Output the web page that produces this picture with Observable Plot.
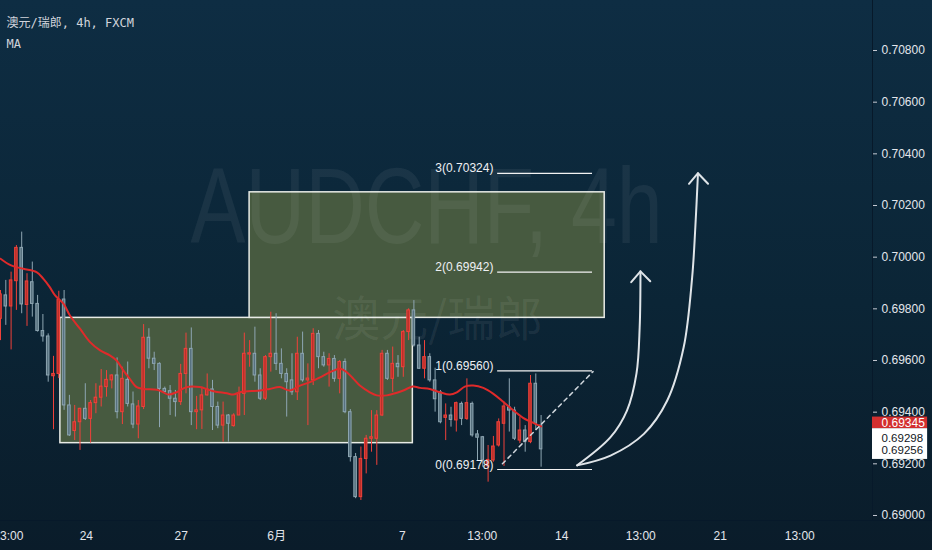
<!DOCTYPE html>
<html><head><meta charset="utf-8">
<script src="https://cdn.jsdelivr.net/npm/d3@7"></script>
<script src="https://cdn.jsdelivr.net/npm/@observablehq/plot@0.6"></script>
<style>
html,body{margin:0;padding:0;background:#0b2234;overflow:hidden;}
#chart svg{display:block}
</style></head><body><div id="chart"></div>
<script>
// ---- data (AUD/CHF 4h candles) ----
const opens  = [0.69761,0.69852,0.69809,0.69907,0.70036,0.69815,0.69903,0.69819,0.69714,0.69693,
  0.69539,0.69548,0.69836,0.69426,0.69327,0.69361,0.69413,0.69374,0.69435,0.69456,
  0.69497,0.69523,0.69542,0.69400,0.69525,0.69430,0.69352,0.69420,0.69688,0.69607,
  0.69587,0.69490,0.69481,0.69452,0.69439,0.69548,0.69645,0.69400,0.69407,0.69465,
  0.69488,0.69420,0.69348,0.69387,0.69346,0.69387,0.69471,0.69623,0.69626,0.69542,
  0.69452,0.69613,0.69626,0.69587,0.69548,0.69523,0.69477,0.69626,0.69523,0.69523,
  0.69703,0.69613,0.69581,0.69606,0.69529,0.69594,0.69400,0.69226,0.69071,0.69219,
  0.69297,0.69297,0.69387,0.69626,0.69529,0.69587,0.69574,0.69710,0.69794,0.69658,
  0.69568,0.69613,0.69523,0.69477,0.69378,0.69387,0.69368,0.69432,0.69374,0.69432,
  0.69314,0.69303,0.69190,0.69213,0.69271,0.69355,0.69419,0.69406,0.69290,0.69329,
  0.69284,0.69510,0.69348];
const highs  = [0.69871,0.69910,0.69942,0.70045,0.70097,0.69936,0.69981,0.69852,0.69778,0.69703,
  0.69616,0.69868,0.69871,0.69465,0.69426,0.69415,0.69510,0.69445,0.69510,0.69565,
  0.69561,0.69545,0.69610,0.69574,0.69594,0.69478,0.69445,0.69739,0.69723,0.69632,
  0.69591,0.69497,0.69503,0.69484,0.69585,0.69706,0.69726,0.69461,0.69497,0.69548,
  0.69523,0.69439,0.69439,0.69391,0.69394,0.69497,0.69706,0.69677,0.69729,0.69568,
  0.69619,0.69787,0.69781,0.69645,0.69568,0.69626,0.69690,0.69710,0.69587,0.69723,
  0.69716,0.69632,0.69626,0.69619,0.69600,0.69606,0.69410,0.69240,0.69265,0.69310,
  0.69406,0.69406,0.69639,0.69639,0.69652,0.69619,0.69716,0.69800,0.69832,0.69690,
  0.69677,0.69626,0.69570,0.69484,0.69432,0.69419,0.69439,0.69439,0.69529,0.69439,
  0.69329,0.69306,0.69271,0.69306,0.69374,0.69439,0.69529,0.69419,0.69381,0.69348,
  0.69542,0.69548,0.69387];
const lows   = [0.69677,0.69736,0.69641,0.69794,0.69781,0.69732,0.69768,0.69710,0.69671,0.69516,
  0.69332,0.69530,0.69407,0.69306,0.69290,0.69252,0.69368,0.69280,0.69394,0.69420,
  0.69458,0.69490,0.69374,0.69352,0.69420,0.69336,0.69297,0.69410,0.69568,0.69561,
  0.69340,0.69471,0.69387,0.69381,0.69426,0.69471,0.69348,0.69332,0.69333,0.69462,
  0.69329,0.69336,0.69284,0.69284,0.69342,0.69387,0.69387,0.69574,0.69516,0.69445,
  0.69445,0.69555,0.69561,0.69529,0.69381,0.69465,0.69445,0.69516,0.69348,0.69503,
  0.69568,0.69574,0.69497,0.69516,0.69471,0.69394,0.69207,0.69065,0.69058,0.69161,
  0.69245,0.69194,0.69383,0.69523,0.69477,0.69535,0.69535,0.69677,0.69652,0.69565,
  0.69529,0.69516,0.69400,0.69355,0.69290,0.69342,0.69323,0.69348,0.69368,0.69303,
  0.69213,0.69187,0.69129,0.69206,0.69265,0.69190,0.69323,0.69290,0.69278,0.69245,
  0.69278,0.69329,0.69187];
const closes = [0.69856,0.69809,0.69910,0.70036,0.69817,0.69906,0.69819,0.69714,0.69693,0.69542,
  0.69548,0.69835,0.69426,0.69310,0.69361,0.69413,0.69374,0.69435,0.69456,0.69499,
  0.69525,0.69542,0.69400,0.69529,0.69432,0.69352,0.69422,0.69688,0.69607,0.69587,
  0.69490,0.69478,0.69452,0.69439,0.69548,0.69645,0.69400,0.69407,0.69465,0.69488,
  0.69420,0.69348,0.69387,0.69355,0.69387,0.69471,0.69626,0.69628,0.69542,0.69452,
  0.69613,0.69626,0.69587,0.69548,0.69516,0.69477,0.69626,0.69523,0.69530,0.69703,
  0.69613,0.69581,0.69606,0.69529,0.69594,0.69400,0.69226,0.69071,0.69219,0.69297,
  0.69303,0.69387,0.69626,0.69529,0.69587,0.69574,0.69710,0.69794,0.69658,0.69568,
  0.69613,0.69523,0.69450,0.69361,0.69387,0.69370,0.69435,0.69374,0.69435,0.69310,
  0.69301,0.69213,0.69215,0.69267,0.69361,0.69422,0.69406,0.69297,0.69329,0.69284,
  0.69510,0.69355,0.69256];

// moving average (bar index, value)
const maBars = [0,2,4.3,6.8,8.1,9.3,10.3,11.9,13.1,15,16.9,18.8,20.7,21.9,23.2,24.4,25.7,27,29.5,30.7,
  31.7,33.2,35.1,37.6,40.2,42.7,43.9,45.2,49,50.8,52.7,54.6,56.5,58.4,60.3,62.2,64.1,65.3,66.6,67.8,
  69.7,71,72.9,74.8,76,77.8,79.2,81,82.9,84.8,86.1,87.6,89.2,91.1,93,94.9,96.8,98.6,99.9,101.2,102];
const maVals = [0.69994,0.69968,0.69955,0.69942,0.69916,0.69884,0.69852,0.69819,0.69774,0.69723,0.69671,0.69639,0.69619,0.69600,0.69561,0.69529,0.69497,0.69490,0.69487,0.69477,
  0.69468,0.69477,0.69497,0.69497,0.69481,0.69473,0.69468,0.69477,0.69484,0.69490,0.69497,0.69484,0.69503,0.69516,0.69535,0.69555,0.69568,0.69555,0.69529,0.69503,
  0.69477,0.69465,0.69465,0.69475,0.69484,0.69499,0.69494,0.69490,0.69477,0.69468,0.69477,0.69499,0.69503,0.69494,0.69471,0.69439,0.69406,0.69378,0.69364,0.69352,0.69345];

// x axis ticks (bar index positions) and labels
const xTickPos    = [1.5, 16.2, 34.1, 52.1, 75.8, 90.9, 105.9, 120.8, 135.8, 150.8];
const xTickLabels = ["13:00","24","27","6月","7","13:00","14","13:00","21","13:00"];
// y axis ticks
const yTicks = [0.690,0.692,0.694,0.696,0.698,0.700,0.702,0.704,0.706,0.708];

// drawings: rectangles
const boxX1 = [11.3, 47.0];
const boxX2 = [77.8, 114.0];
const boxTop = [0.69765, 0.70251];
const boxBottom = [0.69280, 0.69765];

// fibonacci extension levels
const fibRatios = ["0","1","2","3"];
const fibLevels = [0.69178, 0.69560, 0.69942, 0.70324];
const fibStart = 93.8, fibEnd = 111.7;
const fibDash = [[94.7, 0.69200], [111.8, 0.69557]];

// hand-drawn arrows (bar index, price)
const arrow1 = [[108.8,0.69194],[115.1,0.69303],[118.2,0.69406],[120.0,0.69550],[120.6,0.69729],[120.75,0.69945]];
const arrow1Head = [[119.0,0.69903],[120.75,0.69945],[122.6,0.69907]];
const arrow2 = [[108.8,0.69194],[115.1,0.69232],[121.4,0.69316],[125.8,0.69445],[128.9,0.69651],[130.5,0.69922],[131.1,0.70116],[131.6,0.70325]];
const arrow2Head = [[129.9,0.70284],[131.6,0.70325],[133.5,0.70284]];

// price labels on the scale
const maLast = 0.69345, priceA = 0.69298, lastClose = 0.69256;

// ---- build ----
const UP = "#f0413a", UPFILL = "#b9302a", DN = "#8ea6b2", DNFILL = "#57717f";
const candles = opens.map((o,i)=>({k:i, open:o, high:highs[i], low:lows[i], close:closes[i], up: closes[i] >= o}));
const ma = maBars.map((b,i)=>({k:b, v:maVals[i]}));
const boxes = boxX1.map((x,i)=>({x1:x, x2:boxX2[i], y1:boxBottom[i], y2:boxTop[i]}));
const fibs = fibLevels.map((v,i)=>({v, label:`${fibRatios[i]}(${v.toFixed(5)})`}));
const labelMap = new Map(xTickPos.map((p,i)=>[p, xTickLabels[i]]));
const XMAX = 872/5.3;
const SANS = "'Liberation Sans','Noto Sans CJK SC',sans-serif";

const chart = Plot.plot({
  width: 932, height: 550,
  marginLeft: 0, marginRight: 60, marginTop: 0, marginBottom: 30,
  style: {background: "linear-gradient(180deg,#0e2d43 0%,#0b2536 55%,#0a1c2a 100%)", color: "#d1d4dc", fontFamily: SANS, fontSize: "12px"},
  x: {domain: [0, XMAX], axis: null},
  y: {domain: [0.689806, 0.709936], axis: null},
  color: {type: "identity"},
  marks: [
    // frame lines
    Plot.ruleX([XMAX], {stroke: "#07192a", strokeWidth: 1}),
    Plot.ruleY([0.689806], {x1: 0, x2: XMAX + 11.3, stroke: "#07192a", strokeWidth: 1}),
    // rectangles
    Plot.rect(boxes, {x1: "x1", x2: "x2", y1: "y1", y2: "y2", fill: "#475a40", stroke: "#e8ebe6", strokeWidth: 1.5}),
    // watermarks
    Plot.text(["AUDCHF, 4h"], {x: 80.4, y: 0.70188, text: d => d, fontSize: 108, fontFamily: SANS, fill: "#ffffff", fillOpacity: 0.06}),
    Plot.text(["澳元/瑞郎"], {x: 82.5, y: 0.69755, text: d => d, fontSize: 48, fontFamily: "'Noto Sans CJK SC',sans-serif", fill: "#ffffff", fillOpacity: 0.07}),
    // candles
    Plot.ruleX(candles, {x: "k", y1: "low", y2: "high", stroke: d => d.up ? UP : DN, strokeWidth: 1}),
    Plot.rect(candles, {x1: d => d.k - 0.24, x2: d => d.k + 0.24, y1: "open", y2: d => Math.abs(d.close - d.open) < 0.00002 ? d.open + (d.up ? 0.00003 : -0.00003) : d.close,
      fill: d => d.up ? UPFILL : DNFILL, stroke: d => d.up ? UP : DN, strokeWidth: 1}),
    // moving average
    Plot.line(ma, {x: "k", y: "v", stroke: "#e02a2a", strokeWidth: 2, curve: "catmull-rom"}),
    // fib extension
    Plot.ruleY(fibs, {y: "v", x1: fibStart, x2: fibEnd, stroke: "#f2f2f2", strokeWidth: 1.2}),
    Plot.text(fibs, {x: 93.0, y: "v", text: "label", textAnchor: "end", lineAnchor: "bottom", dy: -1, fill: "#eef0f3", fontSize: 12}),
    Plot.line(fibDash, {x: d => d[0], y: d => d[1], stroke: "#cfd6dc", strokeWidth: 1.5, strokeDasharray: "4,4"}),
    // arrows
    Plot.line(arrow1, {x: d => d[0], y: d => d[1], curve: "catmull-rom", stroke: "#dfe4e8", strokeWidth: 2}),
    Plot.line(arrow1Head, {x: d => d[0], y: d => d[1], stroke: "#dfe4e8", strokeWidth: 2}),
    Plot.line(arrow2, {x: d => d[0], y: d => d[1], curve: "catmull-rom", stroke: "#dfe4e8", strokeWidth: 2}),
    Plot.line(arrow2Head, {x: d => d[0], y: d => d[1], stroke: "#dfe4e8", strokeWidth: 2}),
    // axes
    Plot.axisY({anchor: "right", ticks: yTicks, tickFormat: d3.format(".5f"), tickSize: 4, tickPadding: 5, stroke: "#c5c9d2", fill: "#e3e6ec", fontSize: 12, label: null}),
    Plot.axisX({ticks: xTickPos, tickFormat: d => labelMap.get(d), tickSize: 0, tickPadding: 11, fill: "#e3e6ec", fontSize: 12, label: null}),
    // price labels on the scale
    Plot.rect([0], {x1: XMAX, x2: XMAX + 10.4, y1: 0.69381, y2: 0.69336, fill: "#d32f2f"}),
    Plot.rect([0], {x1: XMAX, x2: XMAX + 10.4, y1: 0.69336, y2: 0.69217, fill: "#ffffff"}),
    Plot.text([maLast], {x: XMAX + 1.7, y: 0.69359, text: d => d.toFixed(5), textAnchor: "start", fill: "#ffffff", fontSize: 12}),
    Plot.text([priceA], {x: XMAX + 1.7, y: 0.69300, text: d => d.toFixed(5), textAnchor: "start", fill: "#131722", fontSize: 11.5}),
    Plot.text([lastClose], {x: XMAX + 1.7, y: 0.69251, text: d => d.toFixed(5), textAnchor: "start", fill: "#131722", fontSize: 11.5}),
    // header
    Plot.text(["澳元/瑞郎, 4h, FXCM"], {frameAnchor: "top-left", dx: 6, dy: 18, text: d => d, textAnchor: "start", fill: "#d1d4dc", fontSize: 12, fontFamily: "'DejaVu Sans Mono','Noto Sans CJK SC',monospace"}),
    Plot.text(["MA"], {frameAnchor: "top-left", dx: 6, dy: 39, text: d => d, textAnchor: "start", fill: "#d1d4dc", fontSize: 12, fontFamily: "'DejaVu Sans Mono',monospace"})
  ]
});
// condense the large watermark to the reference's width
d3.select(chart).selectAll("text").filter(function(){ return this.textContent === "AUDCHF, 4h"; })
  .attr("textLength", 472).attr("lengthAdjust", "spacingAndGlyphs");
document.getElementById("chart").appendChild(chart);
</script>
</body></html>
